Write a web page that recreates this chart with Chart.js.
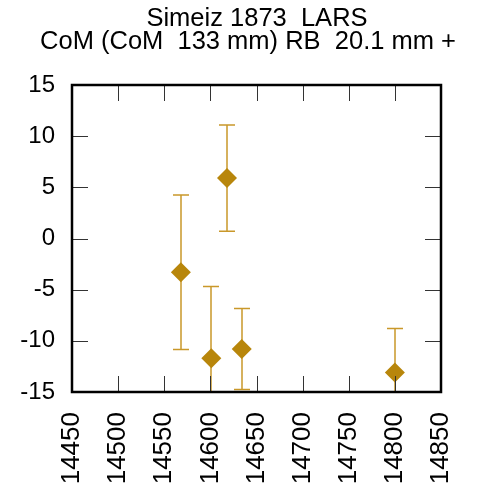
<!DOCTYPE html>
<html><head><meta charset="utf-8">
<script src="https://cdn.jsdelivr.net/npm/chart.js@4.4.1/dist/chart.umd.min.js"></script>
<style>html,body{margin:0;padding:0;background:#fff}#wrap{width:493px;height:488px}</style>
</head><body><div id="wrap"><canvas id="c" width="493" height="488"></canvas></div>
<script>
const titleLines = ['Simeiz 1873  LARS', 'CoM (CoM  133 mm) RB  20.1 mm +'];
const xValues = [14568, 14601, 14618, 14634, 14800];
const yValues = [-3.3, -11.7, 5.9, -10.8, -13.1];
const yErrors = [7.55, 7.0, 5.18, 3.96, 4.3];
const xTicks = [14450, 14500, 14550, 14600, 14650, 14700, 14750, 14800, 14850];
const yTicks = [-15, -10, -5, 0, 5, 10, 15];

const FONT = '"Liberation Sans", Arial, Helvetica, sans-serif';
const pointColor = '#b8860b';
const barColor = '#c9982a';

const titlePlugin = {
  id: 'titleText',
  afterDraw(chart) {
    const ctx = chart.ctx;
    ctx.save();
    ctx.fillStyle = '#000';
    ctx.font = '25.5px ' + FONT;
    ctx.textAlign = 'center';
    ctx.textBaseline = 'alphabetic';
    ctx.fillText(titleLines[0], 257, 26);
    ctx.fillText(titleLines[1], 248, 49);
    ctx.restore();
  }
};

const errorBarPlugin = {
  id: 'errorBars',
  beforeDatasetsDraw(chart) {
    const ctx = chart.ctx, a = chart.chartArea;
    const xs = chart.scales.x, ys = chart.scales.y;
    ctx.save();
    ctx.beginPath();
    ctx.rect(a.left, a.top, a.right - a.left, a.bottom - a.top);
    ctx.clip();
    ctx.strokeStyle = barColor;
    ctx.lineWidth = 1.5;
    for (let i = 0; i < xValues.length; i++) {
      const px = Math.round(xs.getPixelForValue(xValues[i]));
      const top = ys.getPixelForValue(yValues[i] + yErrors[i]);
      const bot = ys.getPixelForValue(yValues[i] - yErrors[i]);
      ctx.beginPath();
      ctx.moveTo(px, top); ctx.lineTo(px, bot);
      ctx.moveTo(px - 8, top); ctx.lineTo(px + 8, top);
      ctx.moveTo(px - 8, bot); ctx.lineTo(px + 8, bot);
      ctx.stroke();
    }
    ctx.restore();
  }
};

const framePlugin = {
  id: 'frame',
  afterDatasetsDraw(chart) {
    const ctx = chart.ctx, a = chart.chartArea;
    const xs = chart.scales.x, ys = chart.scales.y;
    const L = 16;
    ctx.save();
    ctx.strokeStyle = '#333';
    ctx.lineWidth = 1;
    ctx.beginPath();
    xs.ticks.forEach(t => {
      const px = Math.round(xs.getPixelForValue(t.value)) + 0.5;
      if (px - 0.5 <= a.left + 1 || px - 0.5 >= a.right - 1) return;
      ctx.moveTo(px, a.bottom); ctx.lineTo(px, a.bottom - L);
      ctx.moveTo(px, a.top); ctx.lineTo(px, a.top + L);
    });
    ys.ticks.forEach(t => {
      const py = Math.round(ys.getPixelForValue(t.value)) + 0.5;
      if (py - 0.5 <= a.top + 1 || py - 0.5 >= a.bottom - 1) return;
      ctx.moveTo(a.left, py); ctx.lineTo(a.left + L, py);
      ctx.moveTo(a.right, py); ctx.lineTo(a.right - L, py);
    });
    ctx.stroke();
    ctx.strokeStyle = '#000';
    ctx.lineWidth = 2.5;
    ctx.strokeRect(a.left, a.top, a.right - a.left, a.bottom - a.top);
    ctx.restore();
  }
};

new Chart(document.getElementById('c'), {
  type: 'scatter',
  data: {
    datasets: [{
      data: xValues.map((x, i) => ({x: x, y: yValues[i]})),
      pointStyle: 'rectRot',
      pointRadius: 10,
      pointHoverRadius: 10,
      pointBackgroundColor: pointColor,
      pointBorderColor: pointColor,
      pointBorderWidth: 0,
      showLine: false
    }]
  },
  options: {
    responsive: false,
    animation: false,
    events: [],
    layout: {padding: {top: 85, right: 52, left: 0, bottom: 0}},
    plugins: {legend: {display: false}, tooltip: {enabled: false}, title: {display: false}},
    scales: {
      x: {
        type: 'linear', min: 14450, max: 14850,
        afterBuildTicks: s => { s.ticks = xTicks.map(v => ({value: v})); },
        afterFit: s => { s.height = 96; },
        grid: {display: false, drawTicks: false},
        border: {display: false},
        ticks: {
          color: '#000', font: {family: FONT, size: 26},
          minRotation: 90, maxRotation: 90, padding: 20, autoSkip: false,
          callback: v => String(v)
        }
      },
      y: {
        type: 'linear', min: -15, max: 15,
        afterBuildTicks: s => { s.ticks = yTicks.map(v => ({value: v})); },
        afterFit: s => { s.width = 72; },
        grid: {display: false, drawTicks: false},
        border: {display: false},
        ticks: {
          color: '#000', font: {family: FONT, size: 24},
          padding: 17, autoSkip: false,
          callback: v => String(v)
        }
      }
    }
  },
  plugins: [titlePlugin, errorBarPlugin, framePlugin]
});
</script></body></html>
